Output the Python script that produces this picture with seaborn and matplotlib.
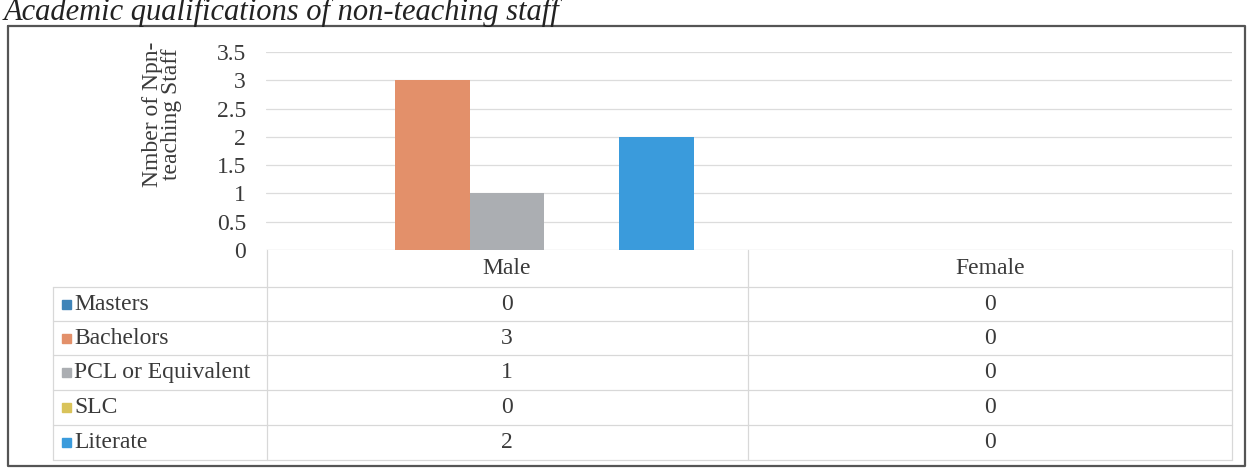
import matplotlib
matplotlib.use("Agg")
import matplotlib.pyplot as plt
import seaborn as sns
import pandas as pd

# ---- data ----
genders = ["Male", "Female"]
qualifications = ["Masters", "Bachelors", "PCL or Equivalent", "SLC", "Literate"]
male_counts = [0, 3, 1, 0, 2]
female_counts = [0, 0, 0, 0, 0]
y_ticks = [0, 0.5, 1, 1.5, 2, 2.5, 3, 3.5]
y_tick_labels = ["0", "0.5", "1", "1.5", "2", "2.5", "3", "3.5"]
colors = ["#3F84B8", "#E3906A", "#ABAEB2", "#D9C35A", "#3A9BDC"]
title = "Academic qualifications of non-teaching staff"
ylabel = "Nmber of Npn-\nteaching Staff"

rows = []
for g, vals in zip(genders, [male_counts, female_counts]):
    for q, v in zip(qualifications, vals):
        rows.append({"gender": g, "qualification": q, "count": v})
df = pd.DataFrame(rows)

sns.set_theme(style="white")
plt.rcParams["font.family"] = ["Liberation Serif", "DejaVu Serif"]

W, H = 1251, 473
fig = plt.figure(figsize=(W / 100, H / 100), dpi=100)
fig.patch.set_facecolor("white")

def px(x0, y0, x1, y1):
    return [x0 / W, 1 - y1 / H, (x1 - x0) / W, (y1 - y0) / H]

TXT = "#3a3a3a"
FS = 17

# overlay axes in pixel coordinates for frame / table
oax = fig.add_axes([0, 0, 1, 1])
oax.set_xlim(0, W)
oax.set_ylim(H, 0)
oax.axis("off")

# main plot axes
ax = fig.add_axes(px(265.5, 52, 1231.5, 250))
sns.barplot(data=df, x="gender", y="count", hue="qualification",
            hue_order=qualifications, order=genders, palette=colors,
            width=0.776, ax=ax, legend=False, saturation=1,
            edgecolor="none", linewidth=0)
ax.set_ylim(0, 3.5)
ax.set_xlim(-0.5, 1.5)
ax.set_yticks(y_ticks)
ax.set_yticklabels(y_tick_labels, fontsize=FS, color=TXT)
ax.tick_params(axis="y", length=0, pad=14)
ax.set_xticks([])
ax.set_xlabel("")
ax.set_ylabel("")
for s in ax.spines.values():
    s.set_visible(False)
for t in y_ticks:
    ax.axhline(t, color="#dcdcdc" if t > 0 else "#c8c8c8", lw=0.9, zorder=0)
ax.set_facecolor("none")

# y label
fig.text(162 / W, 1 - 114 / H, ylabel, rotation=90, ha="center", va="center",
         fontsize=FS, color=TXT, linespacing=0.9)

# title (top partly cut like the scan)
oax.text(4, 20, title, fontsize=22, style="italic", color="#222222",
         ha="left", va="baseline")

# outer frame
oax.plot([8, 1245, 1245, 8, 8], [26, 26, 466, 466, 26], color="#555555", lw=1.6)

# data table
col_centers = [507, 990]
col_edges = [267, 748, 1232]
row_edges = [287, 321, 355, 390, 425, 460]
row_centers = [(a + b) / 2 for a, b in zip(row_edges[:-1], row_edges[1:])]
grid_c = "#d8d8d8"
for x in col_edges:
    oax.plot([x, x], [250, row_edges[-1]], color=grid_c, lw=0.9)
oax.plot([53, 53], [row_edges[0], row_edges[-1]], color=grid_c, lw=0.9)
for y in row_edges:
    oax.plot([53, col_edges[-1]], [y, y], color=grid_c, lw=0.9)

for g, cx in zip(genders, col_centers):
    oax.text(cx, 268, g, ha="center", va="center", fontsize=FS, color=TXT)

table_vals = [male_counts, female_counts]
for j, (q, col) in enumerate(zip(qualifications, colors)):
    yc = row_centers[j]
    oax.add_patch(plt.Rectangle((62, yc - 4.5), 9, 9, color=col))
    oax.text(74, yc, q, ha="left", va="center", fontsize=FS, color=TXT)
    for vals, cx in zip(table_vals, col_centers):
        oax.text(cx, yc, str(vals[j]), ha="center", va="center",
                 fontsize=FS, color=TXT)

fig.savefig("out.png", dpi=100, facecolor="white")
